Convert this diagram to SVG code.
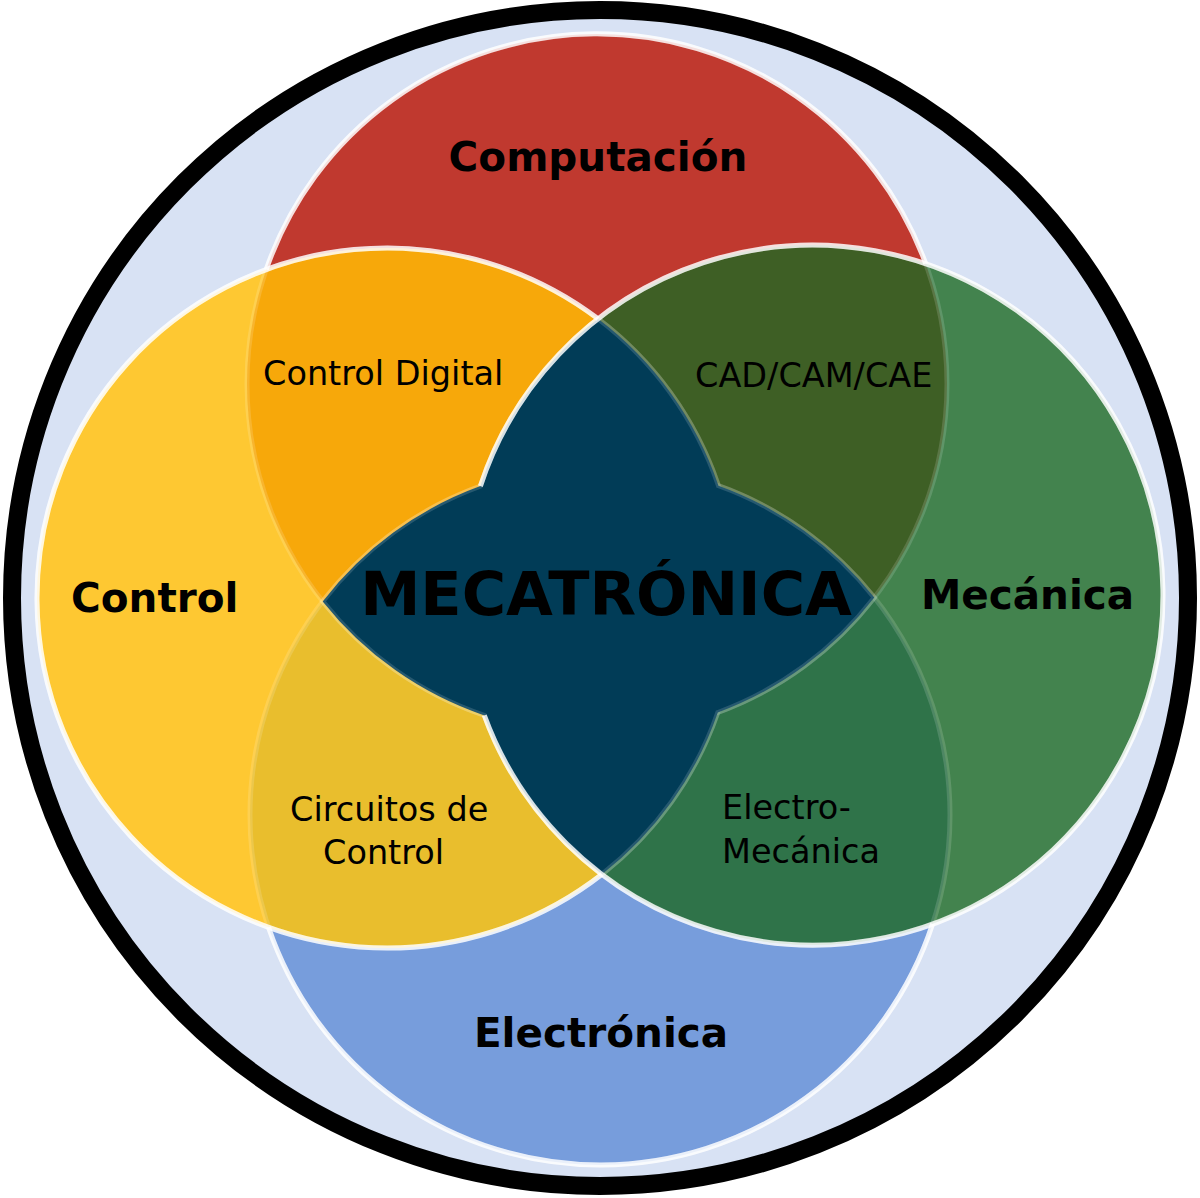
<svg xmlns="http://www.w3.org/2000/svg" width="1200" height="1198" viewBox="0 0 1200 1198">
<style>
.lbl{font-family:"DejaVu Sans","Liberation Sans",sans-serif;font-weight:bold;font-size:40.5px;fill:#000}
.sub{font-family:"DejaVu Sans","Liberation Sans",sans-serif;font-size:33.5px;fill:#000}
.faint{fill:none;stroke:#fff;stroke-opacity:0.15;stroke-width:5}
.strong{fill:none;stroke:#fff;stroke-opacity:0.82;stroke-width:5}
</style>
<defs>
<clipPath id="cT"><circle cx="597" cy="384" r="350"/></clipPath>
<clipPath id="cB"><circle cx="600" cy="815" r="350"/></clipPath>
</defs>
<rect width="1200" height="1198" fill="#fff"/>
<circle id="frame" cx="600" cy="598" r="588" fill="#D8E2F4" stroke="#000" stroke-width="18"/>
<g id="computacion">
<circle cx="597" cy="384" r="350" fill="#C0392F"/>
</g>
<g id="electronica">
<circle cx="600" cy="815" r="350" fill="#779DDC"/>
</g>
<g id="control">
<circle cx="387" cy="598" r="350" fill="#FEC832"/>
</g>
<g id="mecanica">
<circle cx="813" cy="595" r="350" fill="#43834E"/>
</g>
<g id="overlaps">
<circle cx="387" cy="598" r="350" fill="#F7A80A" clip-path="url(#cT)"/>
<circle cx="813" cy="595" r="350" fill="#3E5F25" clip-path="url(#cT)"/>
<circle cx="387" cy="598" r="350" fill="#E9BE2D" clip-path="url(#cB)"/>
<circle cx="813" cy="595" r="350" fill="#2F7349" clip-path="url(#cB)"/>
</g>
<g id="faint-edges">
<circle class="faint" cx="597" cy="384" r="350"/>
<circle class="faint" cx="600" cy="815" r="350"/>
<circle class="faint" cx="387" cy="598" r="350"/>
<circle class="faint" cx="813" cy="595" r="350"/>
</g>
<g id="mecatronica">
<path id="star" d="M598,318.8 A350,350 0 0 1 718.5,485.7 A350,350 0 0 1 874.3,597.6 A350,350 0 0 1 717.8,712.5 A350,350 0 0 1 602,874.2 A350,350 0 0 1 484.3,715.4 A350,350 0 0 1 322.7,601.4 A350,350 0 0 1 480.4,486.1 A350,350 0 0 1 598,318.8 Z" fill="#013C57"/>
<path class="faint" d="M598,318.8 A350,350 0 0 1 718.5,485.7 A350,350 0 0 1 874.3,597.6 A350,350 0 0 1 717.8,712.5 A350,350 0 0 1 602,874.2 A350,350 0 0 1 484.3,715.4 A350,350 0 0 1 322.7,601.4 A350,350 0 0 1 480.4,486.1 A350,350 0 0 1 598,318.8 Z"/>
</g>
<g id="edges">
<path class="strong" d="M266.2,269.5 A350,350 0 0 1 925.7,263.6"/>
<path class="strong" d="M932.6,923.9 A350,350 0 0 1 268.5,927.3"/>
<path class="strong" d="M602,874.2 A350,350 0 1 1 598,318.8"/>
<path class="strong" d="M480.4,486.1 A350,350 0 1 1 484.3,715.4"/>
</g>
<g id="labels">
<text class="lbl" x="598" y="171" text-anchor="middle">Computación</text>
<text class="lbl" x="71" y="612">Control</text>
<text class="lbl" x="921" y="609">Mecánica</text>
<text class="lbl" x="601" y="1047" text-anchor="middle">Electrónica</text>
<text class="sub" x="263" y="385">Control Digital</text>
<text class="sub" x="695" y="387">CAD/CAM/CAE</text>
<text class="sub" x="290" y="821">Circuitos de</text>
<text class="sub" x="323" y="864">Control</text>
<text class="sub" x="722" y="819">Electro-</text>
<text class="sub" x="722" y="863">Mecánica</text>
<text class="lbl" x="606" y="615" text-anchor="middle" style="font-size:60.5px">MECATRÓNICA</text>
</g>
</svg>
